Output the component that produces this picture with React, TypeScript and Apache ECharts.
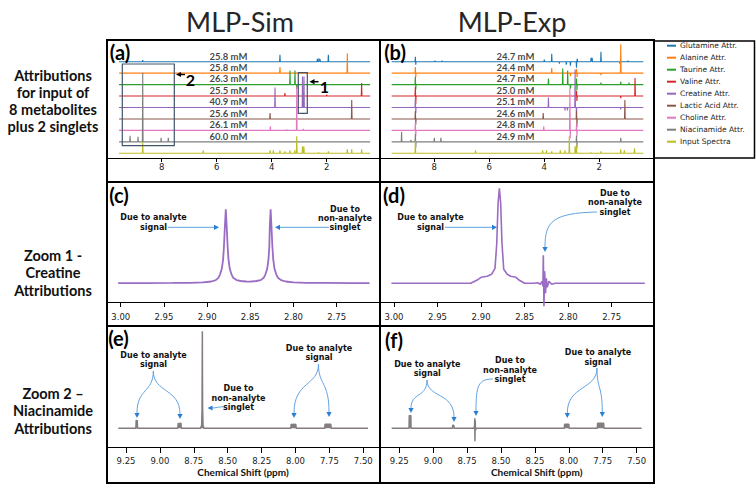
import React, { useEffect, useRef } from "react";
import * as echarts from "echarts";

// ---------------- DATA ----------------
const metabolites = [
  "Glutamine Attr.", "Alanine Attr.", "Taurine Attr.", "Valine Attr.", "Creatine Attr.",
  "Lactic Acid Attr.", "Choline Attr.", "Niacinamide Attr.", "Input Spectra",
];
const colors = ["#1f77b4", "#ff7f0e", "#2ca02c", "#d62728", "#9467bd", "#8c564b", "#e377c2", "#7f7f7f", "#bcbd22"];

const simConc = ["25.8 mM", "25.8 mM", "26.3 mM", "25.5 mM", "40.9 mM", "25.6 mM", "26.1 mM", "60.0 mM"];
const expConc = ["24.7 mM", "24.4 mM", "24.7 mM", "25.0 mM", "25.1 mM", "24.6 mM", "24.8 mM", "24.9 mM"];

// peaks as [ppm, height] per trace (MLP-Sim overview)
const simGlutamine = [[8.69, 1.5], [3.70, 7], [2.34, 3], [2.28, 3.5], [2.24, 2.5], [1.94, 7]];
const simAlanine = [[3.70, 6], [1.25, 20]];
const simTaurine = [[3.335, 14], [3.153, 14], [3.09, -4.5]];
const simValine = [[3.52, 3], [2.0, 1.5], [0.73, 13]];
const simCreatine = [[3.88, 20], [2.88, 31], [2.826, 31]];
const simLactic = [[4.06, 6], [1.09, 19]];
const simCholine = [[4.05, 4], [3.45, 1], [3.09, 44], [2.85, 1.5]];
const simNiacinamide = [[9.15, 6], [8.86, 5], [8.69, 69], [8.02, 4], [7.76, 4]];
const simInput = [[8.69, 11], [6.49, 3], [4.06, 3], [3.94, 3], [3.70, 3], [3.52, 2], [3.34, 3], [3.16, 3], [3.09, 17], [2.88, 7], [2.83, 7], [2.30, 1], [1.94, 2], [1.25, 4], [1.09, 4], [0.73, 4]];
const simPeaks = [simGlutamine, simAlanine, simTaurine, simValine, simCreatine, simLactic, simCholine, simNiacinamide, simInput];

// peaks as [ppm, height] per trace (MLP-Exp overview)
const expGlutamine = [[9.17, 1.5], [8.69, 5], [8.675, -3], [7.98, 1], [7.72, 1], [4.0, 2], [3.73, 8], [3.45, -2], [3.2, -3], [3.05, -4], [2.83, -6], [2.80, 3], [2.30, 4], [2.26, 4], [1.94, 10], [1.25, -2], [0.95, 1]];
const expAlanine = [[8.69, 6], [8.675, -4], [3.73, 5], [3.05, -3], [2.83, 4], [2.81, -4], [1.94, -2], [1.22, 29]];
const expTaurine = [[8.69, 8], [8.675, -5], [3.85, 6], [3.33, 16], [3.15, 14], [3.05, -4], [2.83, 6], [2.815, -6], [1.94, 2], [1.22, 3], [0.92, 2]];
const expValine = [[8.69, 9], [8.675, -8], [2.83, 5], [2.815, -5], [1.22, -2], [0.70, 18]];
const expCreatine = [[8.69, 9], [8.675, -6], [3.85, 10], [3.25, -3], [3.16, -3], [2.88, 38], [2.83, -8], [1.22, -2]];
const expLactic = [[8.69, 8], [8.675, -6], [4.04, 6], [2.83, 8], [2.815, -8], [1.07, 19]];
const expCholine = [[8.69, 8], [8.675, -6], [4.02, 4], [3.07, 42], [3.06, -8], [2.83, 6], [2.815, -6]];
const expNiacinamide = [[9.19, 10], [8.85, 2], [8.69, 8], [8.675, -6], [8.00, 4], [7.76, 4], [2.83, 6], [2.815, -6], [1.22, 4]];
const expInput = [[8.69, 12], [6.50, 3], [4.06, 3], [3.92, 3], [3.73, 2], [3.42, 3], [3.25, 3], [3.09, 17], [2.88, 7], [2.83, 8], [2.30, 1], [1.94, 2], [1.22, 4], [1.09, 3], [0.72, 5]];
const expPeaks = [expGlutamine, expAlanine, expTaurine, expValine, expCreatine, expLactic, expCholine, expNiacinamide, expInput];

const simSpan = [9.55, 0.42];
const expSpan = [9.55, 0.40];

// Zoom 1: creatine attributions, [ppm, intensity]
const creatineSim = [
  [3.003, 0.2], [2.97, 0.25], [2.94, 0.35], [2.92, 0.5], [2.905, 0.9], [2.895, 1.8], [2.89, 3.2], [2.887, 5.5], [2.885, 9],
  [2.883, 14.5], [2.8815, 24], [2.8805, 37], [2.8795, 56], [2.8784, 74], [2.8773, 56], [2.8763, 37], [2.8753, 24],
  [2.8738, 14.5], [2.8718, 9], [2.8698, 5.5], [2.866, 3.2], [2.861, 2.3], [2.855, 1.8], [2.8525, 1.7], [2.849, 1.8],
  [2.843, 2.3], [2.838, 3.2], [2.8345, 5.5], [2.8325, 9], [2.8305, 14.5], [2.829, 24], [2.828, 37], [2.8275, 56],
  [2.8265, 74], [2.8255, 56], [2.8245, 37], [2.8235, 24], [2.822, 14.5], [2.82, 9], [2.818, 5.5], [2.8145, 3.2],
  [2.809, 1.8], [2.80, 0.9], [2.785, 0.5], [2.76, 0.35], [2.735, 0.25], [2.712, 0.2],
];
const creatineExp = [
  [3.003, 0], [2.95, 0], [2.912, 0], [2.905, 3], [2.9, 6], [2.893, 7], [2.888, 9], [2.884, 15], [2.882, 40],
  [2.8805, 80], [2.879, 95], [2.8775, 80], [2.876, 40], [2.874, 14], [2.87, 9], [2.866, 7], [2.86, 6], [2.856, 3],
  [2.85, 0], [2.84, 0], [2.835, 0.5], [2.832, -1], [2.83, 2], [2.829, -3], [2.8285, 28], [2.8278, -23], [2.827, 12],
  [2.826, -10], [2.825, 5], [2.824, -4], [2.822, 2], [2.819, -1], [2.815, 0], [2.78, 0], [2.712, 0],
];

// Zoom 2: niacinamide attributions, [ppm, intensity]
const niacinSim = [
  [9.307, 0], [9.177, 0], [9.175, 8], [9.171, 7.5], [9.167, 8], [9.165, 0],
  [8.868, 0], [8.865, 5], [8.858, 4.5], [8.852, 5], [8.845, 5], [8.842, 0],
  [8.70, 0], [8.692, 3], [8.689, 20], [8.687, 97], [8.685, 20], [8.682, 3], [8.675, 0],
  [8.035, 0], [8.032, 4], [8.022, 3.5], [8.014, 4], [8.006, 3.5], [7.998, 4], [7.995, 0],
  [7.785, 0], [7.782, 4], [7.77, 4], [7.76, 4], [7.75, 4], [7.74, 4], [7.737, 0], [7.465, 0],
];
const niacinExp = [
  [9.306, 0], [9.178, 0], [9.176, 13], [9.17, 12], [9.165, 13], [9.163, 0],
  [8.858, 0], [8.856, 3], [8.848, 3], [8.846, 0],
  [8.70, 0], [8.695, 2], [8.693, 10], [8.692, -13], [8.69, 8], [8.688, -2], [8.684, 0],
  [8.033, 0], [8.031, 4], [8.02, 4], [8.01, 4], [8.0, 4], [7.998, 0],
  [7.79, 0], [7.788, 5], [7.775, 5], [7.765, 5], [7.755, 5], [7.743, 5], [7.741, 0], [7.463, 0],
];

const overviewTicks = [8, 6, 4, 2];
const creatineTicks = [3.0, 2.95, 2.9, 2.85, 2.8, 2.75];
const niacinTicks = [9.25, 9.0, 8.75, 8.5, 8.25, 8.0, 7.75, 7.5];

// ---------------- LAYOUT ----------------
const BASE0 = 4.7;
const STEP = 11.45;
const LABEL_PPM_SIM = 5.571;
const LABEL_PPM_EXP = 5.048;
const BLUE_LINE = "#62a3e3";
const BLUE_HEAD = "#2a7fd4";
const ANN_FONT = "bold 8px 'DejaVu Sans'";
const ANN_LH = 9.4;

function sticks(peaks: number[][], base: number, span: number[]) {
  const w = 0.012;
  const sorted = [...peaks].sort((a, b) => b[0] - a[0]);
  const pts: number[][] = [[span[0], base]];
  for (const [p, h] of sorted) {
    pts.push([p + w, base], [p, base + h], [p - w, base]);
  }
  pts.push([span[1], base]);
  return pts;
}

function txt(x: number, y: number, text: string, font = ANN_FONT, align = "center", fill = "#111", lineHeight?: number) {
  const style: any = { text, font, fill, align, verticalAlign: "middle", textAlign: align, textVerticalAlign: "middle" };
  if (lineHeight) style.lineHeight = lineHeight;
  return { type: "text", x, y, z: 100, silent: true, style };
}
function block(x: number, y: number, lines: string[]) {
  return txt(x, y, lines.join("\n"), ANN_FONT, "center", "#111", ANN_LH);
}
function seg(x1: number, y1: number, x2: number, y2: number, stroke = BLUE_LINE, lineWidth = 1) {
  return { type: "line", z: 100, silent: true, shape: { x1, y1, x2, y2 }, style: { stroke, lineWidth } };
}
function bez(x1: number, y1: number, cpx1: number, cpy1: number, cpx2: number, cpy2: number, x2: number, y2: number) {
  return {
    type: "bezierCurve", z: 100, silent: true,
    shape: { x1, y1, cpx1, cpy1, cpx2, cpy2, x2, y2 },
    style: { stroke: BLUE_LINE, lineWidth: 1, fill: "none" },
  };
}
function head(x: number, y: number, dir: string, fill = BLUE_HEAD) {
  const L = 5, W = 2.6;
  let pts: number[][] = [];
  if (dir === "right") pts = [[x, y], [x - L, y - W], [x - L, y + W]];
  if (dir === "left") pts = [[x, y], [x + L, y - W], [x + L, y + W]];
  if (dir === "down") pts = [[x, y], [x - W, y - L], [x + W, y - L]];
  return { type: "polygon", z: 100, silent: true, shape: { points: pts }, style: { fill } };
}
function frame(x1: number, y1: number, x2: number, y2: number, w = 2) {
  return seg(x1, y1, x2, y2, "#000", w);
}

function xAxis(gridIndex: number, min: number, max: number, ticks: number[], fmt: (v: number) => string, margin: number, tickLen: number) {
  return {
    type: "value", gridIndex, inverse: true, min, max,
    axisLine: { show: true, onZero: false, lineStyle: { color: "#000", width: 1 } },
    axisTick: { show: true, customValues: ticks, length: tickLen, lineStyle: { color: "#000", width: 1 } },
    axisLabel: { show: true, customValues: ticks, formatter: fmt, margin, fontFamily: "DejaVu Sans", fontSize: 8.5, color: "#222" },
    splitLine: { show: false },
  };
}
function yAxis(gridIndex: number, min: number, max: number) {
  return { type: "value", gridIndex, min, max, show: false };
}

export default function App() {
  const ref = useRef<HTMLDivElement>(null);
  useEffect(() => {
    if (!ref.current) return;
    const chart = echarts.init(ref.current, null, { renderer: "svg" });

    const series: any[] = [];
    metabolites.forEach((name, i) => {
      const base = BASE0 + (8 - i) * STEP;
      series.push({
        type: "line", name, xAxisIndex: 0, yAxisIndex: 0, data: sticks(simPeaks[i], base, simSpan),
        symbol: "none", silent: true, lineStyle: { color: colors[i], width: 1.1 }, itemStyle: { color: colors[i] }, z: 2 + i,
      });
      series.push({
        type: "line", name, xAxisIndex: 1, yAxisIndex: 1, data: sticks(expPeaks[i], base, expSpan),
        symbol: "none", silent: true, lineStyle: { color: colors[i], width: 1.1 }, itemStyle: { color: colors[i] }, z: 2 + i,
      });
    });
    const concLabel = { show: true, position: "inside", formatter: "{b}", fontFamily: "Lato", fontWeight: "bold", fontSize: 9.5, color: "#111" };
    series.push({
      type: "scatter", name: "sim-conc", xAxisIndex: 0, yAxisIndex: 0, symbolSize: 0, silent: true, z: 20,
      itemStyle: { color: "transparent" }, label: concLabel,
      data: simConc.map((c, i) => ({ name: c, value: [LABEL_PPM_SIM, BASE0 + (8 - i) * STEP + 5.7] })),
    });
    series.push({
      type: "scatter", name: "exp-conc", xAxisIndex: 1, yAxisIndex: 1, symbolSize: 0, silent: true, z: 20,
      itemStyle: { color: "transparent" }, label: concLabel,
      data: expConc.map((c, i) => ({ name: c, value: [LABEL_PPM_EXP, BASE0 + (8 - i) * STEP + 5.7] })),
    });
    const niaColor = "#857d7d";
    series.push({ type: "line", name: "creatine-sim", xAxisIndex: 2, yAxisIndex: 2, data: creatineSim, symbol: "none", silent: true, lineStyle: { color: "#9b6cc4", width: 1.8 } });
    series.push({ type: "line", name: "creatine-exp", xAxisIndex: 3, yAxisIndex: 3, data: creatineExp, symbol: "none", silent: true, clip: false, lineStyle: { color: "#9b6cc4", width: 1.6 } });
    series.push({ type: "line", name: "niacin-sim", xAxisIndex: 4, yAxisIndex: 4, data: niacinSim, symbol: "none", silent: true, lineStyle: { color: niaColor, width: 1.5 }, areaStyle: { color: niaColor, opacity: 1, origin: 0 } });
    series.push({ type: "line", name: "niacin-exp", xAxisIndex: 5, yAxisIndex: 5, data: niacinExp, symbol: "none", silent: true, clip: false, lineStyle: { color: niaColor, width: 1.5 }, areaStyle: { color: niaColor, opacity: 1, origin: 0 } });

    const two = (v: number) => v.toFixed(2);
    const RL = "bold 14.5px Lato";
    const graphics: any[] = [
      // titles
      txt(240, 21, "MLP-Sim", "27px Lato", "center", "#262626"),
      txt(512, 21, "MLP-Exp", "27px Lato", "center", "#262626"),
      // row labels
      txt(53, 101, "Attributions\nfor input of\n8 metabolites\nplus 2 singlets", RL, "center", "#111", 17.3),
      txt(53, 272.5, "Zoom 1 -\nCreatine\nAttributions", RL, "center", "#111", 17.5),
      txt(53, 410.5, "Zoom 2 –\nNiacinamide\nAttributions", RL, "center", "#111", 17.5),
      // frames
      frame(107, 40, 655, 40), frame(107, 182, 655, 182), frame(107, 326, 655, 326), frame(107, 483, 655, 483),
      frame(107, 39, 107, 484), frame(380, 39, 380, 484), frame(654, 39, 654, 484),
      { type: "rect", z: 100, silent: true, shape: { x: 654, y: 41, width: 100.5, height: 117 }, style: { stroke: "#000", lineWidth: 1.5, fill: "none" } },
      // panel letters
      txt(120, 51.5, "(a)", "bold 20px Lato", "center", "#000"),
      txt(395, 51.5, "(b)", "bold 20px Lato", "center", "#000"),
      txt(119, 195, "(c)", "bold 20px Lato", "center", "#000"),
      txt(394, 195, "(d)", "bold 20px Lato", "center", "#000"),
      txt(118.5, 338, "(e)", "bold 20px Lato", "center", "#000"),
      txt(394, 340, "(f)", "bold 20px Lato", "center", "#000"),
      // zoom boxes in (a)
      { type: "rect", z: 100, silent: true, shape: { x: 122.3, y: 64, width: 52, height: 81.7 }, style: { stroke: "#44546a", lineWidth: 1.2, fill: "none" } },
      { type: "rect", z: 100, silent: true, shape: { x: 298.3, y: 72.7, width: 9, height: 40.6 }, style: { stroke: "#44546a", lineWidth: 1.2, fill: "none" } },
      txt(190.5, 79.5, "2", "bold 16px Lato", "center", "#000"),
      seg(185, 74.5, 180, 74.5, "#000", 1.5), head(176, 74.5, "left", "#000"),
      txt(324.5, 86.5, "1", "bold 16px Lato", "center", "#000"),
      seg(318.5, 81.7, 313.5, 81.7, "#000", 1.5), head(309.5, 81.7, "left", "#000"),
      // (c) annotations
      block(153.5, 222.5, ["Due to analyte", "signal"]),
      seg(168, 227.3, 214, 227.3), head(219, 227.3, "right"),
      block(345, 218.6, ["Due to", "non-analyte", "singlet"]),
      seg(329, 227.3, 280, 227.3), head(275, 227.3, "left"),
      // (d) annotations
      block(430.5, 222.6, ["Due to analyte", "signal"]),
      seg(445, 227.3, 492, 227.3), head(497, 227.3, "right"),
      block(615, 202.9, ["Due to", "non-analyte", "singlet"]),
      bez(597, 212, 552, 213, 545, 222, 545, 247), head(545, 252, "down"),
      // (e) annotations
      block(153.5, 359.8, ["Due to analyte", "signal"]),
      bez(153.3, 371, 153.3, 393, 137, 388, 137, 413), head(137, 418, "down"),
      bez(153.3, 371, 153.3, 393, 180, 388, 180, 414), head(180, 419, "down"),
      block(319, 352.8, ["Due to analyte", "signal"]),
      bez(318.5, 364, 318.5, 386, 294, 381, 294, 413), head(294, 418, "down"),
      bez(318.5, 364, 318.5, 386, 329, 381, 329, 412), head(329, 417, "down"),
      block(238.5, 398.1, ["Due to", "non-analyte", "singlet"]),
      bez(224, 406.7, 219, 406.7, 216, 408, 212, 408), head(207.5, 408, "left"),
      // (f) annotations
      block(427.3, 369.2, ["Due to analyte", "signal"]),
      bez(427, 380, 427, 398, 411, 392, 411, 408), head(411, 413, "down"),
      bez(427, 380, 427, 398, 454, 392, 454, 417), head(454, 422, "down"),
      block(510, 370.3, ["Due to", "non-analyte", "singlet"]),
      bez(493, 379, 478, 379, 476, 386, 476, 411), head(476, 416, "down"),
      block(598, 357.5, ["Due to analyte", "signal"]),
      bez(597, 368, 597, 390, 567.3, 385, 567.3, 413), head(567.3, 418, "down"),
      bez(597, 368, 597, 390, 602.3, 385, 602.3, 412), head(602.3, 417, "down"),
      // axis titles
      txt(243, 471.7, "Chemical Shift (ppm)", "bold 10px Lato"),
      txt(536.7, 472, "Chemical Shift (ppm)", "bold 10px Lato"),
    ];

    chart.setOption({
      animation: false,
      backgroundColor: "#fff",
      legend: {
        show: true, data: metabolites, orient: "vertical", left: 667, top: 39.7, padding: 0,
        itemWidth: 9, itemHeight: 2, itemGap: 0, icon: "rect", selectedMode: false,
        textStyle: { fontFamily: "DejaVu Sans", fontSize: 7.5, color: "#222", lineHeight: 12, padding: [0, 0, 0, -1] },
      },
      grid: [
        { left: 107, top: 40, width: 273, height: 118 },
        { left: 380, top: 40, width: 274, height: 118 },
        { left: 107, top: 182, width: 273, height: 120 },
        { left: 380, top: 182, width: 274, height: 120 },
        { left: 107, top: 326, width: 273, height: 121 },
        { left: 380, top: 326, width: 274, height: 121 },
      ],
      xAxis: [
        xAxis(0, 0.062, 9.989, overviewTicks, (v: number) => String(v), 4, 4),
        xAxis(1, 0.011, 9.975, overviewTicks, (v: number) => String(v), 4, 4),
        xAxis(2, 2.6999, 3.0159, creatineTicks, two, 10, 5),
        xAxis(3, 2.7014, 3.0161, creatineTicks, two, 10, 5),
        xAxis(4, 7.377, 9.39, niacinTicks, two, 9, 6),
        xAxis(5, 7.372, 9.392, niacinTicks, two, 9, 6),
      ],
      yAxis: [
        yAxis(0, 0, 118), yAxis(1, 0, 118),
        yAxis(2, -18.7, 101.3), yAxis(3, -18.7, 101.3),
        yAxis(4, -18.7, 102.3), yAxis(5, -18.7, 102.3),
      ],
      series,
      graphic: { elements: graphics },
    });
    return () => chart.dispose();
  }, []);
  return <div ref={ref} style={{ position: "fixed", left: 0, top: 0, width: 756, height: 489, background: "#fff" }} />;
}
